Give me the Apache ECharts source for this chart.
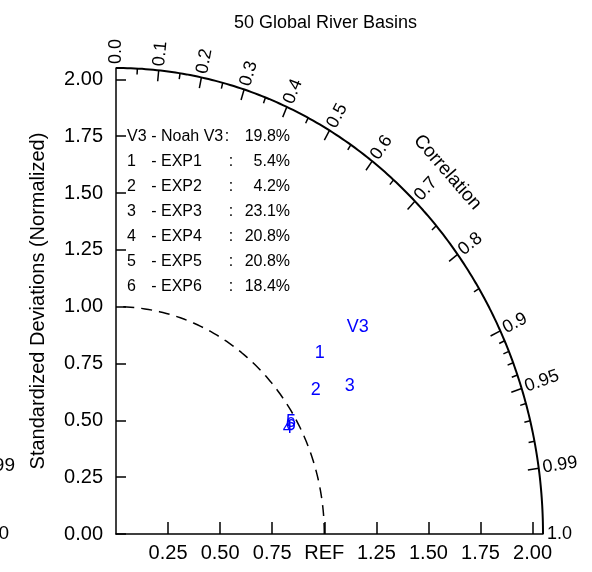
<!DOCTYPE html>
<html><head><meta charset="utf-8">
<script src="https://cdn.jsdelivr.net/npm/echarts@6/dist/echarts.min.js"></script>
<style>html,body{margin:0;padding:0;background:#fff}#c{width:592px;height:572px}</style>
</head><body><div id="c"></div>
<script>
// ---------------- data ----------------
const chartTitle = '50 Global River Basins';
const markerLabels = ['V3', '1', '2', '3', '4', '5', '6'];
const caseNames = ['Noah V3', 'EXP1', 'EXP2', 'EXP3', 'EXP4', 'EXP5', 'EXP6'];
const casePct = ['19.8%', '5.4%', '4.2%', '23.1%', '20.8%', '20.8%', '18.4%'];
const stdRatio = [1.475, 1.261, 1.149, 1.297, 0.948, 0.975, 0.967];
const correlation = [0.787, 0.776, 0.835, 0.865, 0.870, 0.862, 0.868];
const stdYTicks = [0, 0.25, 0.5, 0.75, 1, 1.25, 1.5, 1.75, 2];
const stdXTicks = [0.25, 0.5, 0.75, 1, 1.25, 1.5, 1.75, 2];
const corrMajor = [0.0, 0.1, 0.2, 0.3, 0.4, 0.5, 0.6, 0.7, 0.8, 0.9, 0.95, 0.99, 1.0];
const corrMinor = [0.05, 0.15, 0.25, 0.35, 0.45, 0.55, 0.65, 0.75, 0.85, 0.91, 0.92, 0.93, 0.94, 0.96, 0.97, 0.98];
const outerRadius = 2.05;
const refRadius = 1.0;

// ---------------- helpers ----------------
const FONT = '"Liberation Sans", Arial, Helvetica, sans-serif';
function arcPoints(r) {
  const pts = [];
  for (let d = 0; d <= 90; d += 0.5) {
    const t = d * Math.PI / 180;
    pts.push([r * Math.cos(t), r * Math.sin(t)]);
  }
  return pts;
}
function corrLabelText(c) {
  if (c === 0) return '0.0';
  if (c === 1) return '1.0';
  return String(c);
}
const tickData = corrMajor.map(c => [c, 1]).concat(corrMinor.map(c => [c, 0]));
const markerData = markerLabels.map((l, i) => {
  const th = Math.acos(correlation[i]);
  return [stdRatio[i] * Math.cos(th), stdRatio[i] * Math.sin(th), i];
});

function renderTick(params, api) {
  const c = api.value(0), major = api.value(1);
  const th = Math.acos(c);
  const p0 = api.coord([outerRadius * Math.cos(th), outerRadius * Math.sin(th)]);
  const p1 = api.coord([(outerRadius + 0.2) * Math.cos(th), (outerRadius + 0.2) * Math.sin(th)]);
  let dx = p1[0] - p0[0], dy = p1[1] - p0[1];
  const L = Math.hypot(dx, dy); dx /= L; dy /= L;
  const children = [];
  const len = major ? 11 : 6;
  if (c > 0 && c < 1) {
    children.push({type: 'line', shape: {x1: p0[0], y1: p0[1], x2: p0[0] - dx * len, y2: p0[1] - dy * len},
      style: {stroke: '#000', lineWidth: 1.5}});
  }
  if (major) {
    children.push({type: 'text', x: p0[0] + dx * 4, y: p0[1] + dy * 4, rotation: Math.atan2(-dy, dx),
      style: {text: corrLabelText(c), fill: '#000', font: '18px ' + FONT, align: 'left', verticalAlign: 'middle'}});
  }
  return {type: 'group', children};
}

function renderCorrTitle(params, api) {
  const th = Math.PI / 4, r = 2.25;
  const p = api.coord([r * Math.cos(th), r * Math.sin(th)]);
  const q = api.coord([r * Math.cos(th - 0.05), r * Math.sin(th - 0.05)]);
  const ang = Math.atan2(-(q[1] - p[1]), q[0] - p[0]);
  return {type: 'text', x: p[0], y: p[1], rotation: ang,
    style: {text: 'Correlation', fill: '#000', font: '19px ' + FONT, align: 'center', verticalAlign: 'middle'}};
}

function renderMarker(params, api) {
  const p = api.coord([api.value(0), api.value(1)]);
  return {type: 'text', x: p[0], y: p[1],
    style: {text: markerLabels[api.value(2)], fill: '#0000ff', font: '18px ' + FONT, align: 'center', verticalAlign: 'middle'}};
}

// legend block (text)
const legendGraphics = [];
const rowTop = 137, rowStep = 25;
caseNames.forEach((n, i) => {
  const y = rowTop + i * rowStep;
  const st = {fill: '#000', font: '16px ' + FONT, verticalAlign: 'middle'};
  legendGraphics.push({type: 'text', x: 127, y, style: Object.assign({text: markerLabels[i], align: 'left'}, st)});
  legendGraphics.push({type: 'text', x: 154, y, style: Object.assign({text: '-', align: 'center'}, st)});
  legendGraphics.push({type: 'text', x: 161, y, style: Object.assign({text: n, align: 'left'}, st)});
  legendGraphics.push({type: 'text', x: i === 0 ? 227 : 231, y, style: Object.assign({text: ':', align: 'center'}, st)});
  legendGraphics.push({type: 'text', x: 290, y, style: Object.assign({text: casePct[i], align: 'right'}, st)});
});
// fragments of the neighbouring panel visible at the left edge
legendGraphics.push({type: 'text', x: 15, y: 466, style: {text: '0.99', align: 'right', verticalAlign: 'middle', fill: '#000', font: '19px ' + FONT}});
legendGraphics.push({type: 'text', x: 9, y: 534, style: {text: '1.0', align: 'right', verticalAlign: 'middle', fill: '#000', font: '19px ' + FONT}});

const chart = echarts.init(document.getElementById('c'), null, {renderer: 'canvas'});
chart.setOption({
  animation: false,
  backgroundColor: '#fff',
  title: {text: chartTitle, left: 229, top: 9,
    textStyle: {fontSize: 18, fontWeight: 'normal', color: '#000', fontFamily: FONT}},
  grid: {left: 116, right: 49, top: 68, bottom: 38},
  xAxis: {
    type: 'value', min: 0, max: outerRadius,
    axisLine: {show: true, lineStyle: {color: '#000', width: 1.5}},
    axisTick: {show: true, inside: true, length: 12, customValues: stdXTicks, lineStyle: {color: '#000', width: 1.5}},
    axisLabel: {customValues: stdXTicks, formatter: v => (Math.abs(v - refRadius) < 1e-9 ? 'REF' : v.toFixed(2)),
      fontSize: 20, color: '#000', margin: 9, fontFamily: FONT},
    splitLine: {show: false}
  },
  yAxis: {
    type: 'value', min: 0, max: outerRadius,
    axisLine: {show: true, lineStyle: {color: '#000', width: 1.5}},
    axisTick: {show: true, inside: true, length: 10, customValues: stdYTicks, lineStyle: {color: '#000', width: 1.5}},
    axisLabel: {customValues: stdYTicks, formatter: v => v.toFixed(2), fontSize: 20, color: '#000', margin: 13, fontFamily: FONT},
    splitLine: {show: false},
    name: 'Standardized Deviations (Normalized)', nameLocation: 'middle', nameGap: 68, nameRotate: 90,
    nameTextStyle: {fontSize: 20, color: '#000', fontFamily: FONT}
  },
  graphic: legendGraphics,
  series: [
    {type: 'line', data: arcPoints(outerRadius), showSymbol: false, symbol: 'none', silent: true,
      lineStyle: {color: '#000', width: 2}, z: 3},
    {type: 'line', data: arcPoints(refRadius), showSymbol: false, symbol: 'none', silent: true,
      lineStyle: {color: '#000', width: 1.5, type: [11, 7]}, z: 3},
    {type: 'custom', data: tickData, renderItem: renderTick, clip: false, silent: true, z: 4},
    {type: 'custom', data: [[0, 0]], renderItem: renderCorrTitle, clip: false, silent: true, z: 4},
    {type: 'custom', data: markerData, renderItem: renderMarker, clip: false, silent: true, z: 5}
  ]
});
</script>
</body></html>
